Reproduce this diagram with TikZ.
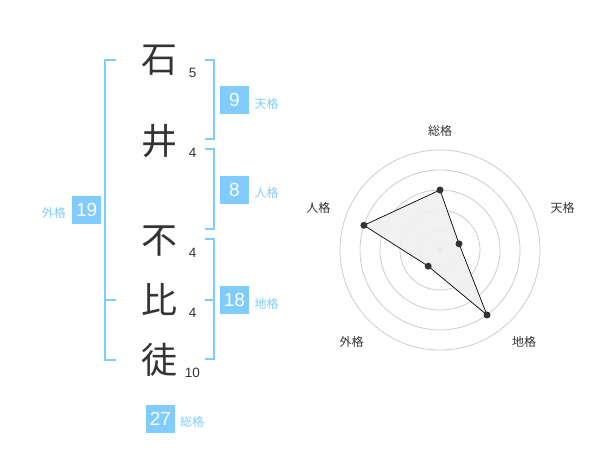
\documentclass[tikz,border=0pt]{standalone}
\usepackage{fontspec}
\setmainfont{Liberation Sans}
\newfontfamily\cjk{Noto Sans CJK JP}
\definecolor{lblue}{RGB}{128,204,255}
\definecolor{dgray}{RGB}{51,51,51}
\definecolor{cgray}{RGB}{204,204,204}
\definecolor{pfill}{RGB}{240,240,240}
\begin{document}
\begin{tikzpicture}[x=1pt,y=-1pt,
  kanji/.style={inner sep=0pt,text=dgray,font=\cjk\fontsize{36}{36}\selectfont},
  strokes/.style={inner sep=0pt,text=dgray,font=\fontsize{13.5}{14}\selectfont},
  numbox/.style={fill=lblue,text=white,minimum width=29pt,minimum height=28pt,inner sep=0pt,font=\fontsize{19}{20}\selectfont},
  kaku/.style={inner sep=0pt,text=lblue,font=\cjk\fontsize{12}{12}\selectfont},
  bracket/.style={draw=lblue,line width=2pt},
  ring/.style={draw=cgray,line width=0.8pt},
  axlabel/.style={inner sep=0pt,text=dgray,font=\cjk\fontsize{12}{12}\selectfont},
  pt/.style={circle,fill=dgray,inner sep=0pt,minimum size=7pt}]
\useasboundingbox (0,0) rectangle (600,470);
% kanji
\node[kanji] (k1) at (159,60) {石};
\node[kanji] (k2) at (159,141) {井};
\node[kanji] (k3) at (159,241) {不};
\node[kanji] (k4) at (159,300) {比};
\node[kanji] (k5) at (159,360) {徒};
\node[strokes] (s1) at (192.7,72.7) {5};
\node[strokes] (s2) at (192.7,153.3) {4};
\node[strokes] (s3) at (192.7,252.7) {4};
\node[strokes] (s4) at (192.7,313.3) {4};
\node[strokes] (s5) at (192.5,372.7) {10};
% brackets
\coordinate (la) at (116,60);
\coordinate (lb) at (105,60);
\coordinate (lc) at (105,360);
\coordinate (ld) at (116,360);
\coordinate (lm1) at (105,300);
\coordinate (lm2) at (116,300);
\draw[bracket] (la) -- (lb) -- (lc) -- (ld);
\draw[bracket] (lm1) -- (lm2);
\coordinate (ta) at (205,60);
\coordinate (tb) at (214.3,60);
\coordinate (tc) at (214.3,139.3);
\coordinate (td) at (205,139.3);
\draw[bracket] (ta) -- (tb) -- (tc) -- (td);
\coordinate (ja) at (205,149.3);
\coordinate (jb) at (214.3,149.3);
\coordinate (jc) at (214.3,229.3);
\coordinate (jd) at (205,229.3);
\draw[bracket] (ja) -- (jb) -- (jc) -- (jd);
\coordinate (ca) at (205,239.3);
\coordinate (cb) at (214.3,239.3);
\coordinate (cc) at (214.3,359.3);
\coordinate (cd) at (205,359.3);
\coordinate (cm1) at (205,300);
\coordinate (cm2) at (214.3,300);
\draw[bracket] (ca) -- (cb) -- (cc) -- (cd);
\draw[bracket] (cm1) -- (cm2);
% boxes
\node[numbox] (b9) at (234.5,100) {9};
\node[numbox] (b8) at (234.5,190) {8};
\node[numbox] (b19) at (86.7,210) {19};
\node[numbox] (b18) at (234.5,300) {18};
\node[numbox] (b27) at (160.5,419) {27};
\node[kaku,anchor=west] (l9) at (254.3,104) {天格};
\node[kaku,anchor=west] (l8) at (254.3,193.3) {人格};
\node[kaku,anchor=west] (l19) at (41.7,213.3) {外格};
\node[kaku,anchor=west] (l18) at (254.3,304) {地格};
\node[kaku,anchor=west] (l27) at (180,422.3) {総格};
% radar
\coordinate (c) at (440,250);
\foreach \r in {20,40,60,80,100} \draw[ring] (c) circle[radius=\r];
\fill[cgray] (c) circle[radius=3.5];
\path (c) ++(0,-60) coordinate (pS)
      (c) ++(19.0,-6.2) coordinate (pT)
      (c) ++(47.0,65.0) coordinate (pC)
      (c) ++(-11.8,16.2) coordinate (pG)
      (c) ++(-76.1,-24.7) coordinate (pJ);
\draw[fill=pfill,fill opacity=0.9,draw=black,line width=0.7pt] (pS) -- (pT) -- (pC) -- (pG) -- (pJ) -- cycle;
\foreach \p in {pS,pT,pC,pG,pJ} \node[pt] at (\p) {};
\node[axlabel] (aS) at (440,130.5) {総格};
\node[axlabel] (aT) at (562.7,208.3) {天格};
\node[axlabel] (aJ) at (318.3,208.3) {人格};
\node[axlabel] (aG) at (351.7,341.7) {外格};
\node[axlabel] (aC) at (524,341.7) {地格};
\end{tikzpicture}
\end{document}
